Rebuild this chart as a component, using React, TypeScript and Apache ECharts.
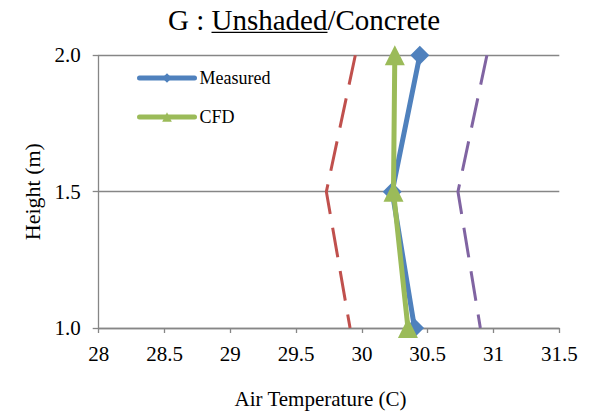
import React, { useEffect, useRef } from "react";
import * as echarts from "echarts";

const heights = [2.0, 1.5, 1.0];
const measured = [30.44, 30.23, 30.4];
const cfd = [30.25, 30.24, 30.35];
const lowerBand = [29.95, 29.73, 29.91];
const upperBand = [30.95, 30.73, 30.9];

const titlePrefix = "G : ";
const titleUnderlined = "Unshaded";
const titleSuffix = "/Concrete";
const xName = "Air Temperature (C)";
const yName = "Height (m)";

const FONT = "'Liberation Serif', 'Times New Roman', serif";
const AXIS_GRAY = "#868686";

export default function App() {
  const ref = useRef<HTMLDivElement>(null);
  useEffect(() => {
    if (!ref.current) return;
    const chart = echarts.init(ref.current, undefined, { renderer: "svg" });
    const pairs = (xs: number[]) => heights.map((h, i) => [xs[i], h]);
    chart.setOption({
      animation: false,
      backgroundColor: "#ffffff",
      textStyle: { fontFamily: FONT },
      grid: { left: 98.7, right: 32.7, top: 55.3, bottom: 80.7, containLabel: false },
      graphic: [
        {
          type: "text",
          left: 168,
          top: 5,
          style: {
            text: titlePrefix + titleUnderlined + titleSuffix,
            font: `29px ${FONT}`,
            fill: "#000",
          },
        },
        {
          type: "line",
          shape: { x1: 211.5, y1: 32.3, x2: 327.5, y2: 32.3 },
          style: { stroke: "#000", lineWidth: 1.3 },
        },
      ],
      legend: {
        data: ["Measured", "CFD"],
        orient: "vertical",
        left: 137,
        top: 68,
        padding: 0,
        itemWidth: 55,
        itemHeight: 12,
        itemGap: 19,
        lineStyle: { width: 5, cap: "round" },
        textStyle: { fontFamily: FONT, fontSize: 18, color: "#000", lineHeight: 20 },
      },
      xAxis: {
        type: "value",
        min: 28,
        max: 31.5,
        interval: 0.5,
        name: xName,
        nameLocation: "middle",
        nameGap: 60,
        nameTextStyle: { fontFamily: FONT, fontSize: 21, color: "#000", padding: [0, 17, 0, 0] },
        axisLine: { show: true, onZero: false, lineStyle: { color: AXIS_GRAY, width: 1.3 } },
        axisTick: { show: true, inside: false, length: 5, lineStyle: { color: AXIS_GRAY, width: 1.3 } },
        axisLabel: { fontFamily: FONT, fontSize: 21, color: "#000", margin: 15 },
        splitLine: { show: false },
      },
      yAxis: {
        type: "value",
        min: 1,
        max: 2,
        interval: 0.5,
        name: yName,
        nameLocation: "middle",
        nameGap: 52,
        nameTextStyle: { fontFamily: FONT, fontSize: 22, color: "#000" },
        axisLine: { show: true, onZero: false, lineStyle: { color: AXIS_GRAY, width: 1.3 } },
        axisTick: { show: true, inside: false, length: 6, lineStyle: { color: AXIS_GRAY, width: 1.3 } },
        axisLabel: {
          fontFamily: FONT,
          fontSize: 21,
          color: "#000",
          margin: 18,
          formatter: (v: number) => v.toFixed(1),
        },
        splitLine: { show: true, lineStyle: { color: AXIS_GRAY, width: 1.3 } },
      },
      series: [
        {
          name: "Lower",
          type: "line",
          data: pairs(lowerBand),
          showSymbol: false,
          symbol: "none",
          clip: false,
          lineStyle: { color: "#C0504D", width: 3, type: [30, 14] },
          itemStyle: { color: "#C0504D" },
          z: 2,
        },
        {
          name: "Upper",
          type: "line",
          data: pairs(upperBand),
          showSymbol: false,
          symbol: "none",
          clip: false,
          lineStyle: { color: "#8064A2", width: 3, type: [30, 14] },
          itemStyle: { color: "#8064A2" },
          z: 2,
        },
        {
          name: "Measured",
          type: "line",
          data: pairs(measured),
          symbol: "diamond",
          symbolSize: 19,
          clip: false,
          lineStyle: { color: "#4F81BD", width: 5 },
          itemStyle: { color: "#4F81BD" },
          z: 3,
        },
        {
          name: "CFD",
          type: "line",
          data: pairs(cfd),
          symbol: "triangle",
          symbolSize: 20,
          clip: false,
          lineStyle: { color: "#9BBB59", width: 5 },
          itemStyle: { color: "#9BBB59" },
          z: 4,
        },
      ],
    });
    return () => chart.dispose();
  }, []);
  return (
    <div
      ref={ref}
      style={{ position: "fixed", left: 0, top: 0, width: 592, height: 414, background: "#fff" }}
    />
  );
}
